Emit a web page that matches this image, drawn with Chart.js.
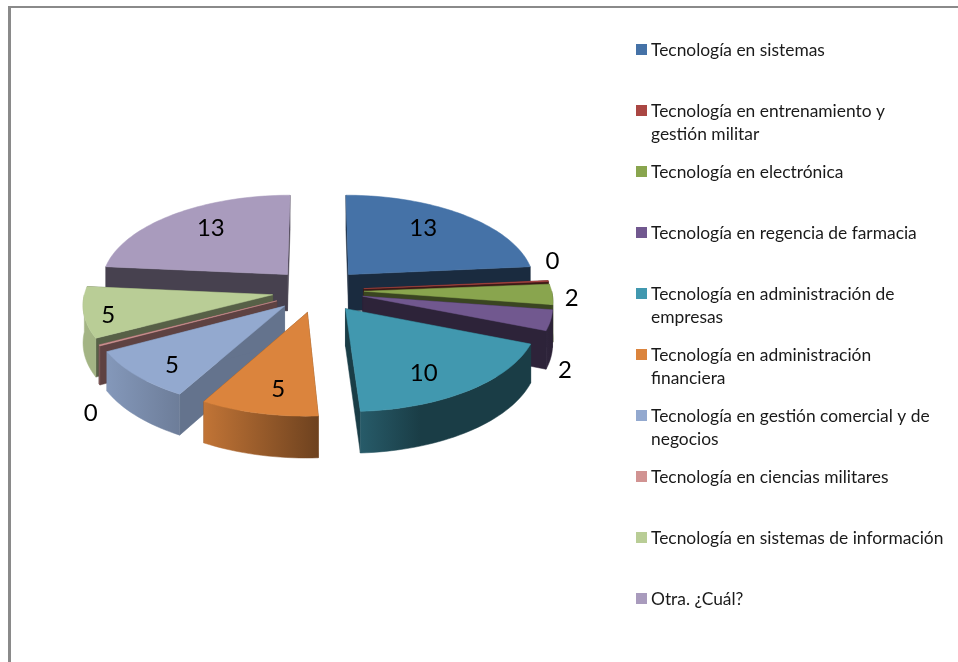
<!DOCTYPE html>
<html>
<head>
<meta charset="utf-8">
<script src="https://cdn.jsdelivr.net/npm/chart.js@4"></script>
<style>
html,body{margin:0;padding:0;background:#fff;width:958px;height:662px;overflow:hidden}
#top{position:absolute;left:8px;top:6px;right:0;height:2px;background:#8a8a8a}
#left{position:absolute;left:8px;top:6px;width:3px;bottom:0;background:#8a8a8a}
canvas{position:absolute;left:0;top:0}
</style>
</head>
<body>
<div id="top"></div><div id="left"></div>
<canvas id="c" width="958" height="662"></canvas>
<script>
const categories = [
  ["Tecnología en sistemas"],
  ["Tecnología en entrenamiento y", "gestión militar"],
  ["Tecnología en electrónica"],
  ["Tecnología en regencia de farmacia"],
  ["Tecnología en administración de", "empresas"],
  ["Tecnología en administración", "financiera"],
  ["Tecnología en gestión comercial y de", "negocios"],
  ["Tecnología en ciencias militares"],
  ["Tecnología en sistemas de información"],
  ["Otra. ¿Cuál?"]
];
const seriesValues = [13, 0.1, 2, 2, 10, 5, 5, 0.1, 5, 13];
const sliceColors = ["#4572A7","#AA4643","#89A54E","#71588F","#4198AF","#DB843D","#93A9CF","#D19392","#B9CD96","#A99BBD"];

// styling of the 3D look
const radialShade = [.38,.35,.42,.40,.40,.55,.68,.45,.47,.42];
const outerShadeLeft = [.4,.4,.45,.42,.60,.88,.90,.6,.88,.6];
const outerShadeRight = [.4,.4,.45,.38,.40,.50,.74,.6,.88,.6];
const outerFlatFrom = [1,1,1,1,.35,1,1,1,1,1];
const labelNudgeX = [2,74,91,87,4,0,-23,-78,-48,-4];
const labelNudgeY = [-8,-23,5,59,15,17,17,85,10,-8];
const TILT = .478, FOCAL = 2000, DEPTH = 37, LABEL_R = .62;

function shade(hex, f){
  const n = parseInt(hex.slice(1),16);
  return `rgb(${Math.round((n>>16&255)*f)},${Math.round((n>>8&255)*f)},${Math.round((n&255)*f)})`;
}
function projector(arc){
  const mid = (arc.startAngle+arc.endAngle)/2, off = arc.options.offset/4;
  return (a,rho,z)=>{
    const X = off*Math.cos(mid)+rho*Math.cos(a), Y = off*Math.sin(mid)+rho*Math.sin(a);
    const s = FOCAL/(FOCAL-Y);
    return [arc.x+X*s, arc.y+Y*TILT*s+z*s];
  };
}
function poly(ctx,pts,fill){
  ctx.beginPath();
  pts.forEach((p,i)=>i?ctx.lineTo(p[0],p[1]):ctx.moveTo(p[0],p[1]));
  ctx.closePath();
  ctx.fillStyle=fill; ctx.fill();
  ctx.strokeStyle=fill; ctx.lineWidth=.5; ctx.stroke();
}
function arcSamples(a0,a1){
  const n=Math.max(2,Math.ceil((a1-a0)/.03)), out=[];
  for(let i=0;i<=n;i++) out.push(a0+(a1-a0)*i/n);
  return out;
}
const pie3d = {
  id:'pie3d',
  beforeDatasetsDraw(chart){
    const ctx=chart.ctx, arcs=chart.getDatasetMeta(0).data;
    const order=arcs.map((a,i)=>i).sort((p,q)=>
      Math.sin((arcs[p].startAngle+arcs[p].endAngle)/2)-Math.sin((arcs[q].startAngle+arcs[q].endAngle)/2));
    order.forEach(i=>{
      const arc=arcs[i], P=projector(arc), R=arc.outerRadius, col=sliceColors[i];
      const a0=arc.startAngle,a1=arc.endAngle;
      const wall=shade(col,radialShade[i]);
      [a0,a1].forEach(a=>poly(ctx,[P(a,0,0),P(a,R,0),P(a,R,DEPTH),P(a,0,DEPTH)],wall));
      const fa0=Math.max(a0,0), fa1=Math.min(a1,Math.PI);
      if(fa1>fa0){
        const s=arcSamples(fa0,fa1);
        const top=s.map(a=>P(a,R,0)), bot=s.map(a=>P(a,R,DEPTH)).reverse();
        const xs=top.map(p=>p[0]);
        const g=ctx.createLinearGradient(Math.min(...xs),0,Math.max(...xs)+.01,0);
        g.addColorStop(0,shade(col,outerShadeLeft[i]));
        g.addColorStop(outerFlatFrom[i],shade(col,outerShadeRight[i]));
        poly(ctx,top.concat(bot),g);
      }
      const face=[P(a0,0,0)].concat(arcSamples(a0,a1).map(a=>P(a,R,0)));
      poly(ctx,face,arc.options.backgroundColor);
    });
    return false;
  },
  afterDraw(chart){
    const ctx=chart.ctx, arcs=chart.getDatasetMeta(0).data;
    ctx.save();
    ctx.textAlign='center'; ctx.textBaseline='middle';
    ctx.fillStyle='#000'; ctx.font='24px Lato';
    arcs.forEach((arc,i)=>{
      const p=projector(arc)((arc.startAngle+arc.endAngle)/2,arc.outerRadius*LABEL_R,0);
      ctx.fillText(String(Math.round(seriesValues[i])),p[0]+labelNudgeX[i],p[1]+labelNudgeY[i]);
    });
    // legend
    ctx.textAlign='left'; ctx.textBaseline='alphabetic';
    ctx.font='17.4px Lato';
    categories.forEach((lines,i)=>{
      const y=49.5+61*i;
      ctx.fillStyle=sliceColors[i];
      ctx.fillRect(636,y-5.5,11,11);
      ctx.fillStyle='#1a1a1a';
      lines.forEach((t,j)=>ctx.fillText(t,651,y+6+23*j));
    });
    ctx.restore();
  }
};
new Chart(document.getElementById('c'),{
  type:'pie',
  data:{labels:categories.map(l=>l.join(' ')),datasets:[{data:seriesValues,backgroundColor:sliceColors,borderWidth:0,offset:184}]},
  options:{
    responsive:false,animation:false,radius:187.5,
    layout:{padding:{right:322,bottom:81}},
    plugins:{legend:{display:false},tooltip:{enabled:false},title:{display:false}}
  },
  plugins:[pie3d]
});
</script>
</body>
</html>
